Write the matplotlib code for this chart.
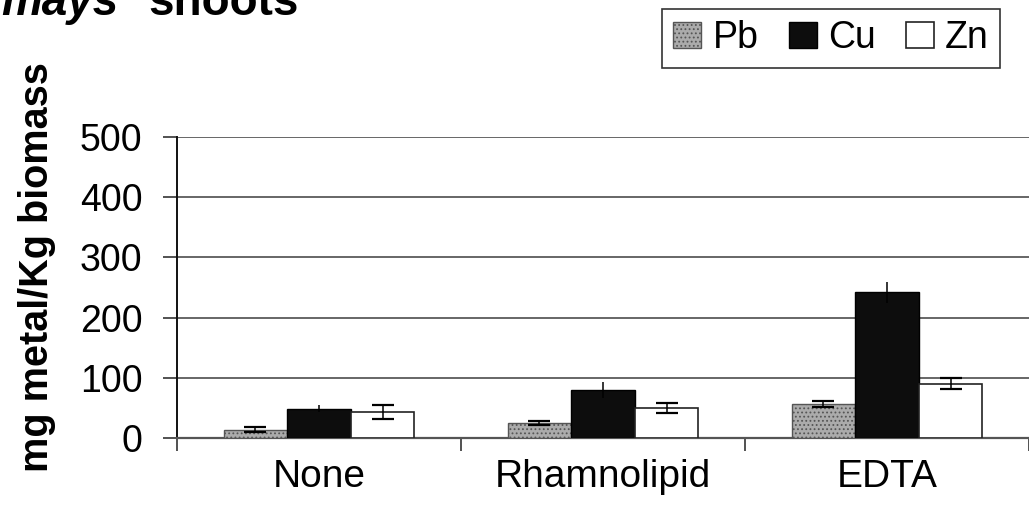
import matplotlib
matplotlib.use("Agg")
import matplotlib.pyplot as plt
import numpy as np

plt.rcParams['font.family'] = ['Liberation Sans', 'DejaVu Sans']
plt.rcParams['hatch.linewidth'] = 0.8

categories = ["None", "Rhamnolipid", "EDTA"]
series = ["Pb", "Cu", "Zn"]
pb_vals = [14, 25, 56]
cu_vals = [49, 80, 242]
zn_vals = [43, 50, 90]
pb_err = [4, 3, 5]
cu_err = [6, 13, 17]
zn_err = [11, 8, 9]
y_ticks = [0, 100, 200, 300, 400, 500]

W, H = 1029, 517
fig = plt.figure(figsize=(W / 100, H / 100), dpi=100)
left, right, bottom, top = 177 / W, 1.0, 1 - 438 / H, 1 - 137 / H
ax = fig.add_axes([left, bottom, right - left, top - bottom])

x = np.arange(len(categories))
bw = 0.224
styles = [
    dict(facecolor="#ababab", edgecolor="#555555", hatch="....", lw=1.0),
    dict(facecolor="#0d0d0d", edgecolor="#000000", lw=1.0),
    dict(facecolor="white", edgecolor="#222222", lw=1.2),
]
caps = [8, 0, 8]
vals = [pb_vals, cu_vals, zn_vals]
errs = [pb_err, cu_err, zn_err]
handles = []
for i, (v, e, st, name, cs) in enumerate(zip(vals, errs, styles, series, caps)):
    b = ax.bar(x + (i - 1) * bw, v, bw, yerr=e, label=name, zorder=3,
               error_kw=dict(ecolor="black", elinewidth=1.1, capsize=cs, capthick=1.6),
               **st)
    handles.append(b)

ax.set_xlim(-0.5, 2.5)
ax.set_ylim(0, 500)
ax.set_yticks(y_ticks)
ax.set_yticklabels([str(t) for t in y_ticks], fontsize=27)
ax.yaxis.grid(True, color="#5a5a5a", lw=1.3, zorder=0)
ax.set_axisbelow(True)

ax.set_xticks([-0.5, 0.5, 1.5, 2.5])
ax.set_xticklabels([])
ax.set_xticks(x, minor=True)
ax.set_xticklabels(categories, minor=True, fontsize=28)
ax.tick_params(axis="x", which="major", direction="out", length=9, width=1.2, color="#333333")
ax.tick_params(axis="x", which="minor", length=0, pad=15)
ax.tick_params(axis="y", direction="out", length=10, width=1.2, pad=15, color="#333333")

for s in ["top", "right"]:
    ax.spines[s].set_visible(False)
ax.spines["left"].set_color("#111111")
ax.spines["left"].set_linewidth(1.4)
ax.spines["bottom"].set_color("#555555")
ax.spines["bottom"].set_linewidth(1.6)

fig.text(37 / W, 1 - 267 / H, "mg metal/Kg biomass", rotation=90, ha="center", va="center",
         fontsize=28.5, fontweight="bold")

fig.text(118 / W, 1 - 15 / H, "mays", ha="right", va="baseline", fontsize=33,
         fontweight="bold", fontstyle="italic")
fig.text(148 / W, 1 - 15 / H, "shoots", ha="left", va="baseline", fontsize=33,
         fontweight="bold")

leg = fig.legend(handles=handles, labels=series, loc="upper right",
                 bbox_to_anchor=(1000 / W, 1 - 9 / H), ncol=3, fontsize=27,
                 frameon=True, fancybox=False, borderaxespad=0, handlelength=0.75,
                 handleheight=0.67, handletextpad=0.3, columnspacing=0.8,
                 borderpad=0.3)
leg.get_frame().set_edgecolor("black")
leg.get_frame().set_linewidth(1.2)

fig.savefig("out.png", dpi=100)
